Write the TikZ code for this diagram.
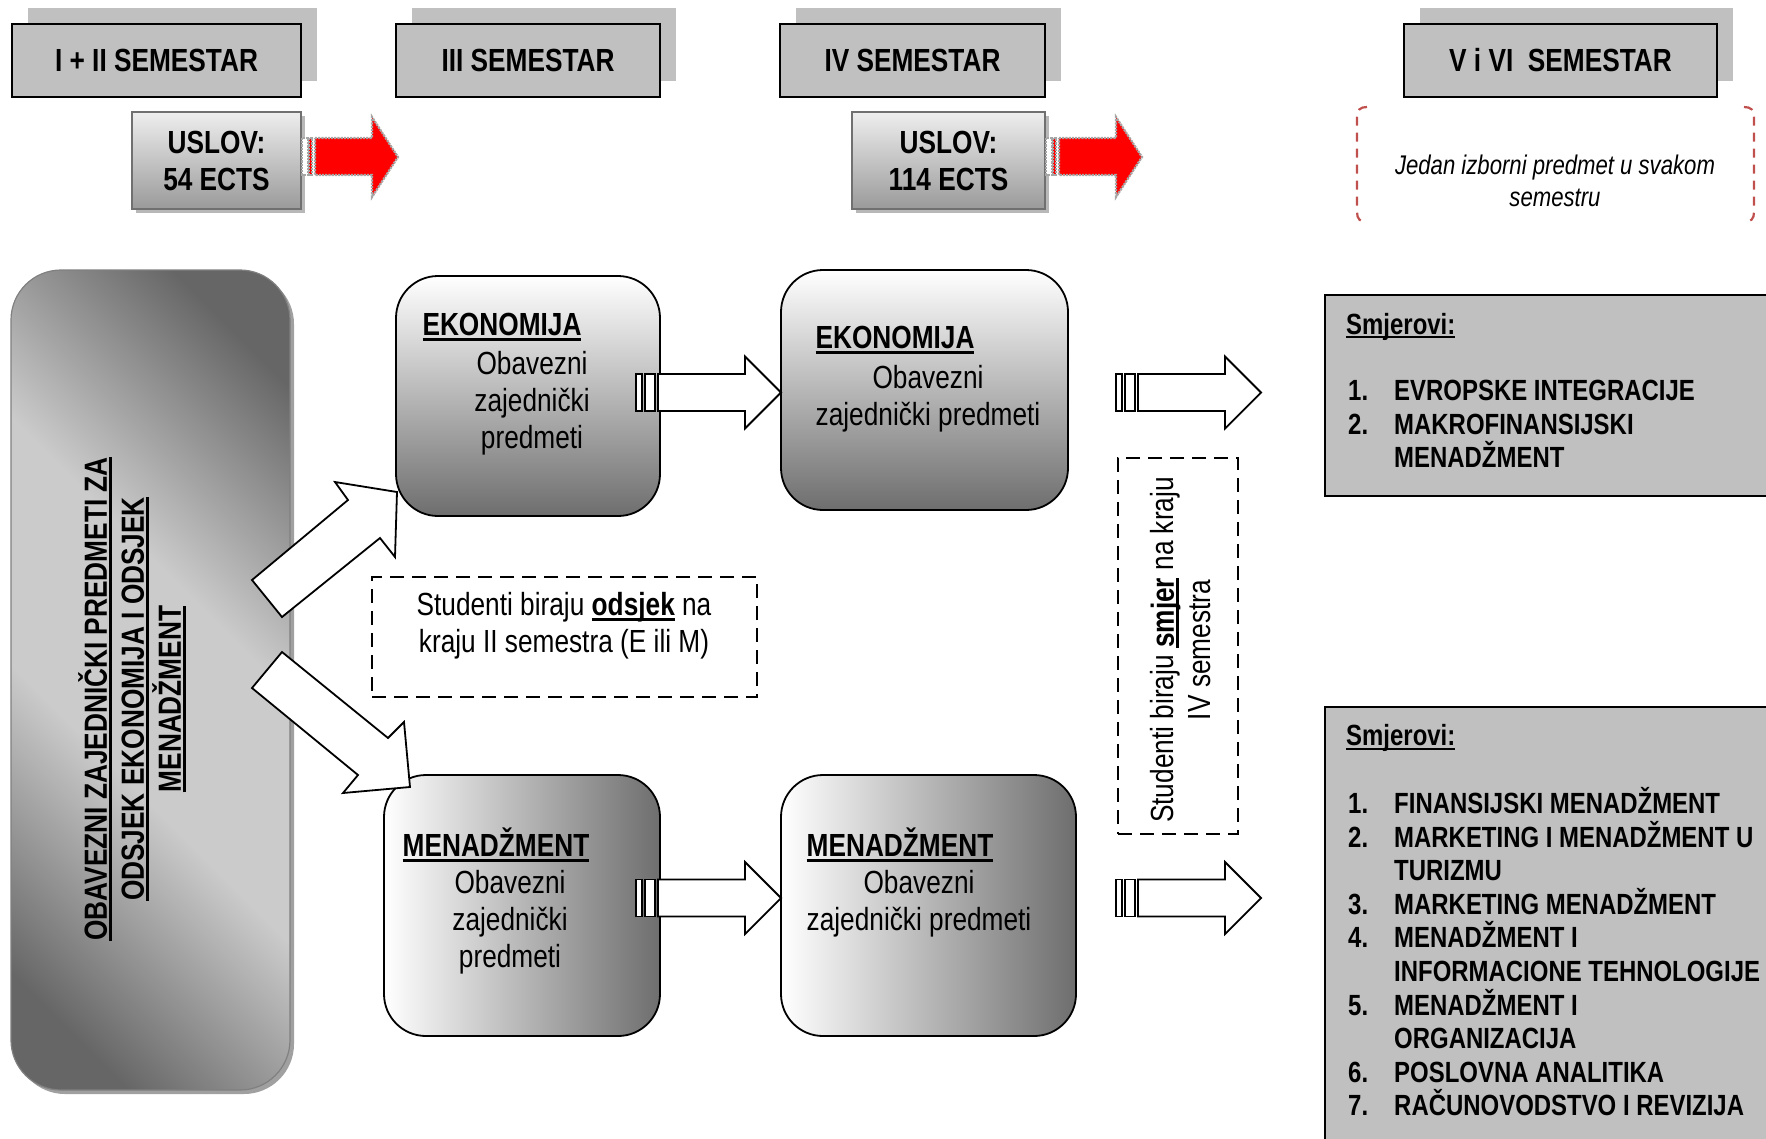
\documentclass[tikz,border=0pt]{standalone}
\usepackage{fontspec}
\setmainfont{Liberation Sans}[FakeStretch=0.82]
\definecolor{hdr}{HTML}{C0C0C0}
\definecolor{cdark}{HTML}{666666}
\definecolor{clight}{HTML}{CBCBCB}
\definecolor{boxdark}{HTML}{6E6E6E}
\definecolor{boxmid}{HTML}{C6C6C6}
\definecolor{redbr}{HTML}{C0504D}
\definecolor{uslovtop}{HTML}{EEEEEE}
\definecolor{uslovbot}{HTML}{9A9A9A}
\definecolor{usloved}{HTML}{707070}
\definecolor{uslovsh}{HTML}{B8B8B8}
\definecolor{arrred}{HTML}{FF0000}
\definecolor{bigsh}{HTML}{A0A0A0}
\pgfdeclarehorizontalshading{diagband}{100bp}{color(0bp)=(cdark); color(22bp)=(cdark); color(42bp)=(clight); color(58bp)=(clight); color(78bp)=(cdark); color(100bp)=(cdark)}
\newcommand\fbig{\fontsize{32}{37}\selectfont}
\newcommand\flist{\fontsize{29.2}{33.6}\selectfont}
\newcommand\fital{\fontsize{27}{32}\selectfont}
\newcommand\ulx[1]{\leavevmode\setbox0\hbox{#1}\rlap{\rule[-0.15em]{\wd0}{0.075em}}\box0\relax}
\newcommand\li[2]{\makebox[46pt][l]{#1}\smash{#2}}
\newcommand\openarrow[2]{%
  \draw[openar] (#1-145,#2-18.5) rectangle (#1-139,#2+18.5);
  \draw[openar] (#1-136,#2-18.5) rectangle (#1-126,#2+18.5);
  \draw[openar] (#1-123,#2-18.5) -- (#1-36,#2-18.5) -- (#1-36,#2-36) -- (#1,#2)
     -- (#1-36,#2+36) -- (#1-36,#2+18.5) -- (#1-123,#2+18.5) -- cycle;}
\newcommand\redarrow[1]{%
  \draw[redbarw] (#1,138) rectangle (#1+6,175);
  \draw[redbody] (#1+7,138) rectangle (#1+10,175);
  \draw[redbody] (#1+13,138) -- (#1+70,138) -- (#1+70,117) -- (#1+96,157)
     -- (#1+70,197) -- (#1+70,175) -- (#1+13,175) -- cycle;}
\begin{document}
\begin{tikzpicture}[x=1pt,y=-1pt,
  hdrshadow/.style={fill=hdr, minimum height=73pt, inner sep=0},
  hdrfront/.style={draw=black, line width=2pt, fill=hdr, minimum height=73pt, inner sep=0, font=\fbig\bfseries},
  uslov/.style={draw=usloved, line width=2.2pt, top color=uslovtop, bottom color=uslovbot, minimum height=97pt, inner sep=0, align=center, font=\fbig\bfseries},
  ebox/.style={draw=black, line width=1.8pt, rounded corners=42pt, top color=white, middle color=boxmid, bottom color=boxdark, inner sep=0},
  mbox/.style={draw=black, line width=1.8pt, rounded corners=42pt, left color=white, middle color=boxmid, right color=boxdark, inner sep=0},
  openar/.style={draw=black, line width=1.8pt, fill=white},
  redbody/.style={draw=gray!70, line width=2.2pt, densely dotted, fill=arrred},
  redbarw/.style={draw=gray!70, line width=2.2pt, densely dotted, fill=white},
  dashbox/.style={draw=black, line width=1.8pt, dash pattern=on 14pt off 8pt},
  smbox/.style={draw=black, line width=2pt, fill=hdr, inner sep=0},
  ttl/.style={font=\fbig\bfseries, inner sep=0},
  body/.style={font=\fbig, align=center, inner sep=0},
  listtxt/.style={font=\flist\bfseries, inner sep=0, anchor=base west}]
\useasboundingbox (0,0) rectangle (1766,1138);
\clip (0,0) rectangle (1766,1138);

% semester headers
\node[hdrshadow, minimum width=289pt] (h1s) at (172.5,44.5) {};
\node[hdrfront, minimum width=289pt] (h1) at (156.5,60.5) {I + II SEMESTAR};
\node[hdrshadow, minimum width=264pt] (h2s) at (544,44.5) {};
\node[hdrfront, minimum width=264pt] (h2) at (528,60.5) {III SEMESTAR};
\node[hdrshadow, minimum width=265pt] (h3s) at (928.5,44.5) {};
\node[hdrfront, minimum width=265pt] (h3) at (912.5,60.5) {IV SEMESTAR};
\node[hdrshadow, minimum width=313pt] (h4s) at (1576.5,44.5) {};
\node[hdrfront, minimum width=313pt] (h4) at (1560.5,60.5) {V i VI\ \ SEMESTAR};

% conditions
\node[fill=uslovsh, minimum width=169pt, minimum height=97pt, inner sep=0] (u1s) at (220.5,164.5) {};
\node[uslov, minimum width=169pt] (u1) at (216.5,160.5) {USLOV:\\54 ECTS};
\node[fill=uslovsh, minimum width=193pt, minimum height=97pt, inner sep=0] (u2s) at (952.5,164.5) {};
\node[uslov, minimum width=193pt] (u2) at (948.5,160.5) {USLOV:\\114 ECTS};
\redarrow{302}
\redarrow{1046}

% elective note
\draw[redbr, line width=2.2pt, dash pattern=on 9pt off 7pt]
  (1367,107) .. controls (1360,107) and (1357,110) .. (1357,117) -- (1357,212)
  .. controls (1357,219) and (1360,222) .. (1367,222);
\draw[redbr, line width=2.2pt, dash pattern=on 9pt off 7pt]
  (1744,107) .. controls (1751,107) and (1754,110) .. (1754,117) -- (1754,212)
  .. controls (1754,219) and (1751,222) .. (1744,222);
\node[font=\fital\itshape, align=center, inner sep=0] (elective) at (1555,181) {Jedan izborni predmet u svakom\\semestru};

% big common box
\node[fill=bigsh, rounded corners=50pt, minimum width=279pt, minimum height=820pt, inner sep=0] (cores) at (154.5,684) {};
\node[draw=gray, line width=1.2pt, shade, shading=diagband, shading angle=45, rounded corners=50pt, minimum width=279pt, minimum height=820pt, inner sep=0] (core) at (150.5,680) {};
\node[rotate=90, align=center, font=\fbig\bfseries, inner sep=0] (coretext) at (132,699)
  {\ulx{OBAVEZNI ZAJEDNIČKI PREDMETI ZA}\\\ulx{ODSJEK EKONOMIJA I ODSJEK}\\\ulx{MENADŽMENT}};

% department boxes
\node[ebox, minimum width=264pt, minimum height=240pt] (e3) at (528,396) {};
\node[ebox, minimum width=287pt, minimum height=240pt] (e4) at (924.5,390) {};
\node[mbox, minimum width=276pt, minimum height=261pt] (m3) at (522,905.5) {};
\node[mbox, minimum width=295pt, minimum height=261pt] (m4) at (928.5,905.5) {};

\node[ttl] (e3t) at (502,327) {\ulx{EKONOMIJA}};
\node[body] (e3b) at (532,403.5) {Obavezni\\zajednički\\predmeti};
\node[ttl] (e4t) at (895,340) {\ulx{EKONOMIJA}};
\node[body] (e4b) at (928,398.5) {Obavezni\\zajednički predmeti};
\node[ttl] (m3t) at (496,845) {\ulx{MENADŽMENT}};
\node[body] (m3b) at (510,922) {Obavezni\\zajednički\\predmeti};
\node[ttl] (m4t) at (900,845) {\ulx{MENADŽMENT}};
\node[body] (m4b) at (919,903.5) {Obavezni\\zajednički predmeti};

% diagonal block arrows
\draw[openar] (252,580) -- (348,500) -- (335,482) -- (397,492) -- (395,557) -- (380,538) -- (282,617) -- cycle;
\draw[openar] (282,652) -- (388,738) -- (404,722) -- (410,787) -- (343,793) -- (358,775) -- (252,688) -- cycle;

% horizontal block arrows
\openarrow{781}{392.5}
\openarrow{781}{898}
\openarrow{1261}{392.5}
\openarrow{1261}{898}

% choice notes
\node[dashbox, minimum width=385pt, minimum height=120pt, inner sep=0] (odbox) at (564.5,637) {};
\node[body] (odtext) at (564,626) {Studenti biraju \ulx{\textbf{odsjek}} na\\kraju II semestra (E ili M)};
\node[dashbox, minimum width=120pt, minimum height=376pt, inner sep=0] (smbox) at (1178,646) {};
\node[body, rotate=90] (smtext) at (1181,650) {Studenti biraju \ulx{\textbf{smjer}} na kraju\\IV semestra};

% study tracks
\node[smbox, minimum width=455pt, minimum height=201pt] (s1) at (1552.5,395.5) {};
\node[listtxt] (s1h) at (1346,334) {\ulx{Smjerovi:}};
\node[listtxt] (s1l) at (1348,400.5) {\begin{tabular}[t]{@{}l@{}}
\li{1.}{EVROPSKE INTEGRACIJE}\\
\li{2.}{MAKROFINANSIJSKI}\\
\li{}{MENADŽMENT}\end{tabular}};
\node[smbox, minimum width=455pt, minimum height=450pt] (s2) at (1552.5,932) {};
\node[listtxt] (s2h) at (1346,745.5) {\ulx{Smjerovi:}};
\node[listtxt] (s2l) at (1348,813.5) {\begin{tabular}[t]{@{}l@{}}
\li{1.}{FINANSIJSKI MENADŽMENT}\\
\li{2.}{MARKETING I MENADŽMENT U}\\
\li{}{TURIZMU}\\
\li{3.}{MARKETING MENADŽMENT}\\
\li{4.}{MENADŽMENT I}\\
\li{}{INFORMACIONE TEHNOLOGIJE}\\
\li{5.}{MENADŽMENT I}\\
\li{}{ORGANIZACIJA}\\
\li{6.}{POSLOVNA ANALITIKA}\\
\li{7.}{RAČUNOVODSTVO I REVIZIJA}\end{tabular}};
\end{tikzpicture}
\end{document}
